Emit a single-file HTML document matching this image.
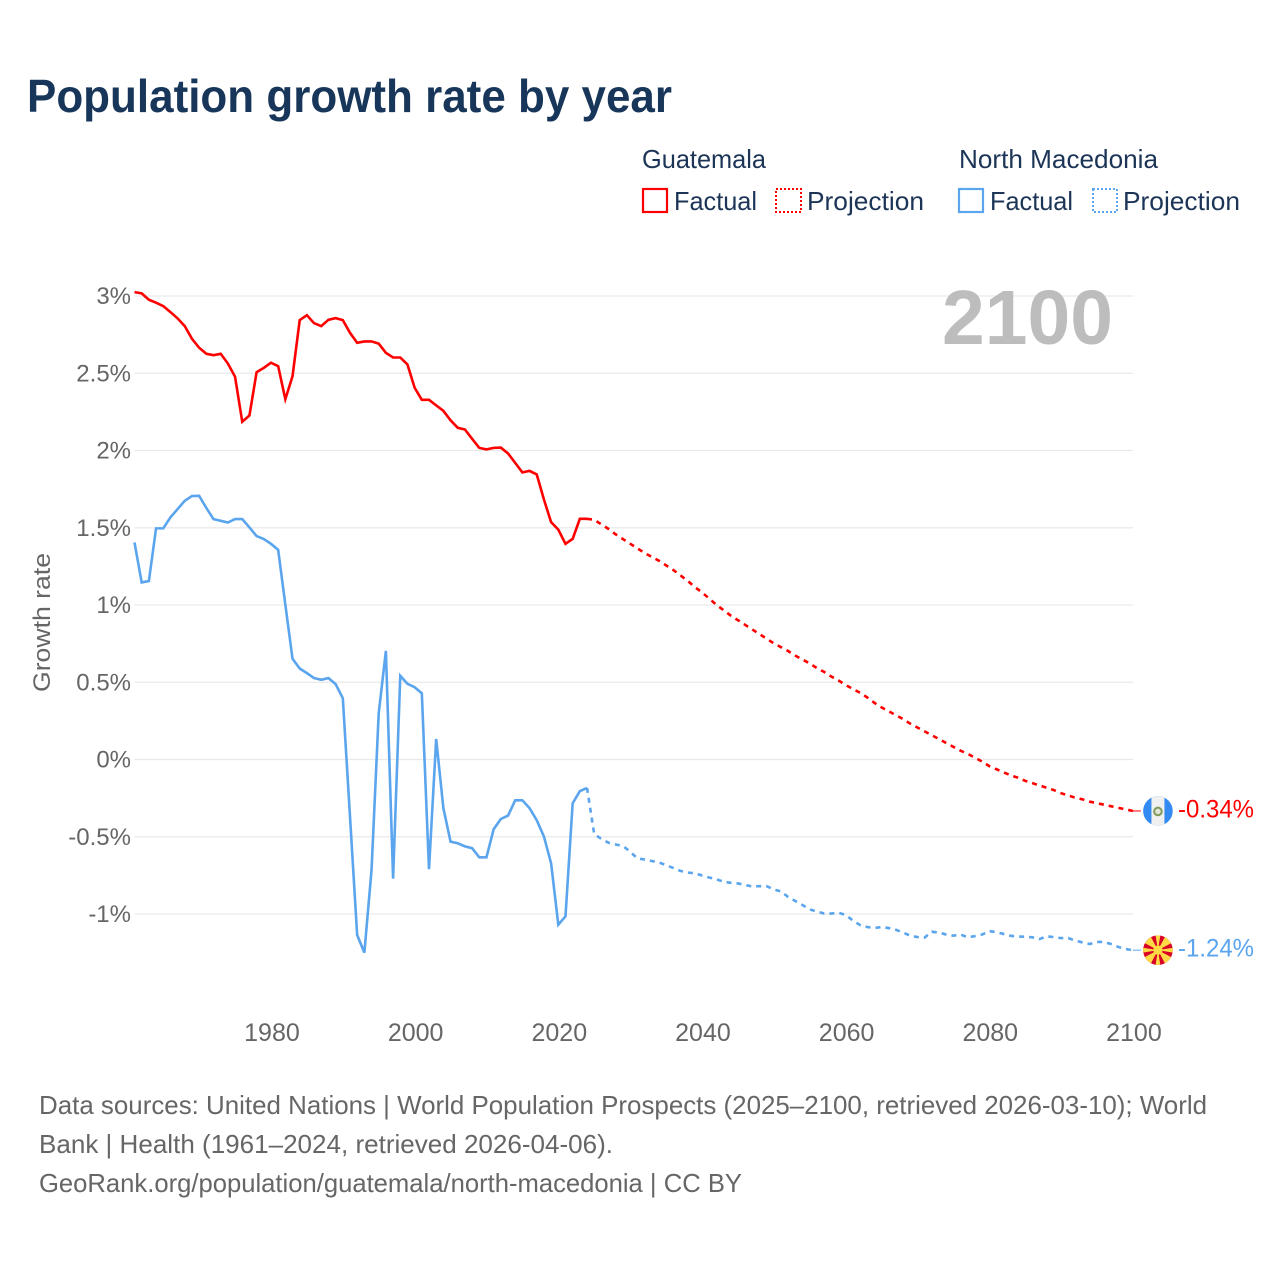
<!DOCTYPE html>
<html lang="en">
<head>
<meta charset="utf-8">
<title>Population growth rate by year</title>
<style>
html,body{margin:0;padding:0;background:#fff;}
svg{display:block;font-family:"Liberation Sans",sans-serif;}
</style>
</head>
<body>
<svg id="chart" xmlns="http://www.w3.org/2000/svg" width="1280" height="1280" viewBox="0 0 1280 1280">
  <rect width="1280" height="1280" fill="#fff"/>
  <text x="27" y="112" font-size="46" font-weight="700" fill="#17365a" textLength="645" lengthAdjust="spacingAndGlyphs">Population growth rate by year</text>

  <g font-size="26" fill="#1c3557">
    <text x="642" y="168" textLength="124" lengthAdjust="spacingAndGlyphs">Guatemala</text>
    <text x="959" y="168" textLength="199" lengthAdjust="spacingAndGlyphs">North Macedonia</text>
    <rect x="643" y="189" width="24" height="23" fill="none" stroke="#ff0000" stroke-width="2.2"/>
    <text x="674" y="210" textLength="83" lengthAdjust="spacingAndGlyphs">Factual</text>
    <rect x="776" y="189" width="25" height="23" fill="none" stroke="#ff0000" stroke-width="2" stroke-dasharray="2 2"/>
    <text x="807" y="210" textLength="117" lengthAdjust="spacingAndGlyphs">Projection</text>
    <rect x="959" y="189" width="24" height="23" fill="none" stroke="#5aa5ee" stroke-width="2.2"/>
    <text x="990" y="210" textLength="83" lengthAdjust="spacingAndGlyphs">Factual</text>
    <rect x="1093" y="189" width="24" height="23" fill="none" stroke="#5aa5ee" stroke-width="2" stroke-dasharray="2 2"/>
    <text x="1123" y="210" textLength="117" lengthAdjust="spacingAndGlyphs">Projection</text>
  </g>

  <g id="grid"></g>
  <g id="yticks"></g>
  <g id="xticks"></g>
  <text transform="translate(50,692) rotate(-90)" font-size="24" fill="#666" textLength="139" lengthAdjust="spacingAndGlyphs">Growth rate</text>
  <text x="1113" y="344" text-anchor="end" font-size="77" font-weight="700" fill="#bdbdbd" textLength="171" lengthAdjust="spacingAndGlyphs">2100</text>

  <g id="series"></g>

  <g id="flag-gt"></g>
  <g id="flag-mk"></g>
  <g id="endlabels"></g>

  <g font-size="26" fill="#666">
    <text x="39" y="1114" textLength="1168" lengthAdjust="spacingAndGlyphs">Data sources: United Nations | World Population Prospects (2025–2100, retrieved 2026-03-10); World</text>
    <text x="39" y="1153" textLength="574" lengthAdjust="spacingAndGlyphs">Bank | Health (1961–2024, retrieved 2026-04-06).</text>
    <text x="39" y="1192" textLength="703" lengthAdjust="spacingAndGlyphs">GeoRank.org/population/guatemala/north-macedonia | CC BY</text>
  </g>
</svg>
<script>
const yTickValues = [3, 2.5, 2, 1.5, 1, 0.5, 0, -0.5, -1];
const yTickLabels = ["3%", "2.5%", "2%", "1.5%", "1%", "0.5%", "0%", "-0.5%", "-1%"];
const xTickYears = [1980, 2000, 2020, 2040, 2060, 2080, 2100];
const factualStartYear = 1961;
const projectionStartYear = 2025;
const guatemalaFactual = [3.023,3.015,2.974,2.955,2.933,2.894,2.853,2.803,2.721,2.663,2.624,2.615,2.624,2.561,2.475,2.184,2.225,2.505,2.533,2.566,2.544,2.33,2.479,2.842,2.874,2.822,2.803,2.844,2.855,2.842,2.76,2.695,2.704,2.704,2.69,2.63,2.6,2.6,2.555,2.404,2.326,2.326,2.29,2.255,2.194,2.145,2.134,2.074,2.015,2.005,2.015,2.017,1.979,1.918,1.856,1.866,1.843,1.681,1.534,1.486,1.394,1.426,1.556,1.556];
const guatemalaProjection = [1.55,1.52,1.49,1.455,1.425,1.395,1.365,1.335,1.31,1.285,1.255,1.225,1.19,1.155,1.115,1.08,1.04,1.0,0.965,0.93,0.9,0.87,0.84,0.81,0.78,0.75,0.725,0.7,0.67,0.645,0.62,0.59,0.565,0.535,0.51,0.48,0.455,0.43,0.4,0.365,0.335,0.31,0.285,0.26,0.23,0.205,0.18,0.155,0.13,0.105,0.08,0.055,0.035,0.01,-0.015,-0.045,-0.065,-0.085,-0.105,-0.12,-0.14,-0.155,-0.17,-0.185,-0.2,-0.22,-0.235,-0.25,-0.26,-0.275,-0.285,-0.295,-0.305,-0.315,-0.325,-0.335];
const macedoniaFactual = [1.403,1.144,1.153,1.494,1.494,1.565,1.619,1.673,1.703,1.705,1.626,1.554,1.543,1.532,1.554,1.554,1.5,1.444,1.425,1.394,1.355,1.0,0.65,0.587,0.557,0.525,0.514,0.525,0.486,0.395,-0.37,-1.138,-1.252,-0.717,0.298,0.701,-0.773,0.54,0.488,0.466,0.427,-0.712,0.131,-0.317,-0.534,-0.544,-0.564,-0.576,-0.635,-0.635,-0.453,-0.387,-0.365,-0.266,-0.266,-0.317,-0.395,-0.501,-0.674,-1.071,-1.017,-0.285,-0.207,-0.186];
const macedoniaProjection = [-0.485,-0.516,-0.541,-0.552,-0.562,-0.598,-0.642,-0.649,-0.659,-0.668,-0.686,-0.704,-0.723,-0.734,-0.738,-0.753,-0.766,-0.777,-0.793,-0.8,-0.804,-0.814,-0.824,-0.822,-0.822,-0.843,-0.856,-0.892,-0.918,-0.944,-0.972,-0.986,-0.999,-0.999,-0.994,-1.008,-1.044,-1.073,-1.086,-1.093,-1.086,-1.093,-1.104,-1.122,-1.143,-1.151,-1.154,-1.117,-1.122,-1.135,-1.142,-1.135,-1.153,-1.145,-1.135,-1.112,-1.12,-1.131,-1.143,-1.148,-1.149,-1.153,-1.164,-1.146,-1.152,-1.158,-1.158,-1.175,-1.186,-1.196,-1.183,-1.183,-1.197,-1.216,-1.229,-1.236];
const endLabelTexts = ["-0.34%", "-1.24%"];

const NS = "http://www.w3.org/2000/svg";
const RED = "#ff0000";
const BLUE = "#5aa5ee";
function xScale(year) { return 134.5 + (year - 1961) * 7.183; }
function yScale(v) { return 759.2 - v * 154.5; }
function svgEl(tag, parent) {
  const el = document.createElementNS(NS, tag);
  parent.appendChild(el);
  return el;
}
function pathFrom(startYear, values) {
  return values.map(function (v, i) {
    return (i ? "L" : "M") + xScale(startYear + i).toFixed(2) + " " + yScale(v).toFixed(2);
  }).join(" ");
}

const gridG = document.getElementById("grid");
const yTicksG = document.getElementById("yticks");
yTickValues.forEach(function (v, i) {
  const line = svgEl("line", gridG);
  
  
  line.setAttribute("x1", xScale(1961));
  line.setAttribute("x2", xScale(2100));
  line.setAttribute("y1", yScale(v) + 0.3);
  line.setAttribute("y2", yScale(v) + 0.3);
  line.setAttribute("stroke", "#e9e9e9");
  line.setAttribute("stroke-width", "1.3");
  const t = svgEl("text", yTicksG);
  
  
  t.setAttribute("x", 131);
  t.setAttribute("y", yScale(v) + 8.5);
  t.setAttribute("text-anchor", "end");
  t.setAttribute("font-size", "24");
  t.setAttribute("fill", "#666");
  t.textContent = yTickLabels[i];
});

const xTicksG = document.getElementById("xticks");
xTickYears.forEach(function (yr) {
  const t = svgEl("text", xTicksG);
  
  
  t.setAttribute("x", xScale(yr) + 1);
  t.setAttribute("y", 1041);
  t.setAttribute("text-anchor", "middle");
  t.setAttribute("font-size", "25");
  t.setAttribute("fill", "#666");
  t.textContent = String(yr);
});

const seriesG = document.getElementById("series");
function drawSeries(name, color, factual, projection) {
  const solid = svgEl("path", seriesG);
  
  
  solid.setAttribute("d", pathFrom(factualStartYear, factual));
  solid.setAttribute("fill", "none");
  solid.setAttribute("stroke", color);
  solid.setAttribute("stroke-width", "2.6");
  solid.setAttribute("stroke-linejoin", "miter");

  const lastYear = factualStartYear + factual.length - 1;
  const dashed = svgEl("path", seriesG);
  
  
  dashed.setAttribute("d", pathFrom(lastYear, [factual[factual.length - 1]].concat(projection)));
  dashed.setAttribute("fill", "none");
  dashed.setAttribute("stroke", color);
  dashed.setAttribute("stroke-width", "2.6");
  dashed.setAttribute("stroke-dasharray", "5 5");

  const endV = projection[projection.length - 1];
  const conn = svgEl("line", seriesG);
  
  
  conn.setAttribute("x1", xScale(2100));
  conn.setAttribute("x2", xScale(2100) + 8);
  conn.setAttribute("y1", yScale(endV));
  conn.setAttribute("y2", yScale(endV));
  conn.setAttribute("stroke", color);
  conn.setAttribute("stroke-width", "1");
}
drawSeries("guatemala", RED, guatemalaFactual, guatemalaProjection);
drawSeries("north-macedonia", BLUE, macedoniaFactual, macedoniaProjection);

const FLAG_CX = xScale(2100) + 25;
const gtEnd = guatemalaProjection[guatemalaProjection.length - 1];
const mkEnd = macedoniaProjection[macedoniaProjection.length - 1];

function flagClip(id, cx, cy) {
  const defs = svgEl("defs", document.getElementById("chart"));
  const cp = svgEl("clipPath", defs);
  cp.setAttribute("id", id);
  const c = svgEl("circle", cp);
  c.setAttribute("cx", cx);
  c.setAttribute("cy", cy);
  c.setAttribute("r", 14.8);
}

// Guatemala flag
(function () {
  const cy = yScale(gtEnd);
  const g = document.getElementById("flag-gt");
  flagClip("clip-gt", FLAG_CX, cy);
  g.setAttribute("clip-path", "url(#clip-gt)");
  const bg = svgEl("rect", g);
  bg.setAttribute("x", FLAG_CX - 15);
  bg.setAttribute("y", cy - 15);
  bg.setAttribute("width", 30);
  bg.setAttribute("height", 30);
  bg.setAttribute("fill", "#338af3");
  const mid = svgEl("rect", g);
  mid.setAttribute("x", FLAG_CX - 6.5);
  mid.setAttribute("y", cy - 15);
  mid.setAttribute("width", 13);
  mid.setAttribute("height", 30);
  mid.setAttribute("fill", "#f0f0f0");
  const ring = svgEl("circle", g);
  ring.setAttribute("cx", FLAG_CX);
  ring.setAttribute("cy", cy + 0.5);
  ring.setAttribute("r", 3.8);
  ring.setAttribute("fill", "#e4e4d8");
  ring.setAttribute("stroke", "#7f9a5c");
  ring.setAttribute("stroke-width", "2");
})();

// North Macedonia flag
(function () {
  const cy = yScale(mkEnd);
  const g = document.getElementById("flag-mk");
  flagClip("clip-mk", FLAG_CX, cy);
  g.setAttribute("clip-path", "url(#clip-mk)");
  const bg = svgEl("rect", g);
  bg.setAttribute("x", FLAG_CX - 15);
  bg.setAttribute("y", cy - 15);
  bg.setAttribute("width", 30);
  bg.setAttribute("height", 30);
  bg.setAttribute("fill", "#d80027");
  for (let i = 0; i < 8; i++) {
    const a = i * Math.PI / 4;
    const w = (i % 2 === 0) ? 0.16 : 0.3;
    const p = svgEl("polygon", g);
    const x1 = FLAG_CX + 18 * Math.cos(a - w), y1 = cy + 18 * Math.sin(a - w);
    const x2 = FLAG_CX + 18 * Math.cos(a + w), y2 = cy + 18 * Math.sin(a + w);
    p.setAttribute("points", FLAG_CX + "," + cy + " " + x1 + "," + y1 + " " + x2 + "," + y2);
    p.setAttribute("fill", "#ffda44");
  }
  const c = svgEl("circle", g);
  c.setAttribute("cx", FLAG_CX);
  c.setAttribute("cy", cy);
  c.setAttribute("r", 4.6);
  c.setAttribute("fill", "#ffda44");
})();

const endG = document.getElementById("endlabels");
[[gtEnd, RED, "guatemala-end-label"], [mkEnd, BLUE, "north-macedonia-end-label"]].forEach(function (item, i) {
  const t = svgEl("text", endG);
  if (i === 0) {
    
  } else {
    
  }
  
  t.setAttribute("x", 1178);
  t.setAttribute("y", yScale(item[0]) + 6.5);
  t.setAttribute("font-size", "25");
  t.setAttribute("fill", item[1]);
  t.setAttribute("textLength", "76");
  t.setAttribute("lengthAdjust", "spacingAndGlyphs");
  t.textContent = endLabelTexts[i];
});
</script>
</body>
</html>
